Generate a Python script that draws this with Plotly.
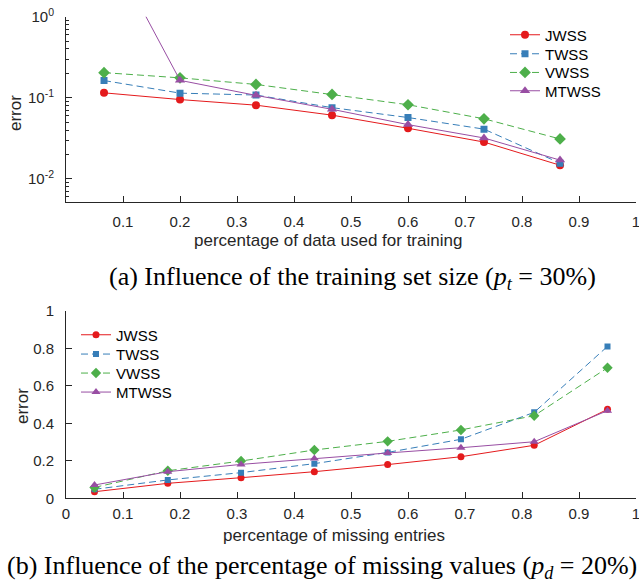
import plotly.graph_objects as go

# ---------------- data ----------------
series_names = ["JWSS", "TWSS", "VWSS", "MTWSS"]

# (a) training set size
x_train = [0.0667, 0.2, 0.3333, 0.4667, 0.6, 0.7333, 0.8667]
jwss_a = [0.115, 0.095, 0.081, 0.061, 0.042, 0.0284, 0.0147]
twss_a = [0.163, 0.114, 0.108, 0.0755, 0.057, 0.041, 0.0156]
vwss_a = [0.204, 0.176, 0.146, 0.110, 0.082, 0.055, 0.031]
mtwss_a = [9.3, 0.164, 0.107, 0.072, 0.0466, 0.0319, 0.017]

# (b) missing values
x_miss = [0.05, 0.1786, 0.3071, 0.4357, 0.5643, 0.6929, 0.8214, 0.95]
jwss_b = [0.035, 0.080, 0.110, 0.142, 0.180, 0.222, 0.283, 0.475]
twss_b = [0.048, 0.098, 0.137, 0.185, 0.245, 0.315, 0.459, 0.811]
vwss_b = [0.058, 0.147, 0.199, 0.258, 0.304, 0.365, 0.441, 0.697]
mtwss_b = [0.071, 0.142, 0.181, 0.213, 0.242, 0.270, 0.302, 0.468]

xa_ticks = [0.1, 0.2, 0.3, 0.4, 0.5, 0.6, 0.7, 0.8, 0.9, 1.0]
xa_text = ["0.1", "0.2", "0.3", "0.4", "0.5", "0.6", "0.7", "0.8", "0.9", "1"]
ya_ticks = [0.01, 0.1, 1]
ya_text = ["10<sup>-2</sup>", "10<sup>-1</sup>", "10<sup>0</sup>"]
xb_ticks = [0, 0.1, 0.2, 0.3, 0.4, 0.5, 0.6, 0.7, 0.8, 0.9, 1.0]
xb_text = ["0", "0.1", "0.2", "0.3", "0.4", "0.5", "0.6", "0.7", "0.8", "0.9", "1"]
yb_ticks = [0, 0.2, 0.4, 0.6, 0.8, 1.0]
yb_text = ["0", "0.2", "0.4", "0.6", "0.8", "1"]

caption_a = "(a) Influence of the training set size (<i>p</i><sub><i>t</i></sub> = 30%)"
caption_b = "(b) Influence of the percentage of missing values (<i>p</i><sub><i>d</i></sub> = 20%)"
xlabel_a = "percentage of data used for training"
xlabel_b = "percentage of missing entries"
ylabel = "error"

# ---------------- style ----------------
colors = ["#e41a1c", "#377eb8", "#4daf4a", "#984ea3"]
symbols = ["circle", "square", "diamond", "triangle-up"]
sizes = [8, 7, 9, 9]
dashes = ["solid", "7px,4px", "7px,4px", "solid"]
AX = "#262626"
FONT = "Liberation Sans, Arial, sans-serif"
SERIF = "Liberation Serif, Times New Roman, serif"

W, H = 639, 584
def px_x(p):
    return p / W
def px_y(p):
    return 1 - p / H

fig = go.Figure()

data_a = [jwss_a, twss_a, vwss_a, mtwss_a]
data_b = [jwss_b, twss_b, vwss_b, mtwss_b]

leg_a_y = [35, 54, 72.7, 91]
leg_b_y = [335, 354.3, 373.3, 392.3]
legends = {}

for i, name in enumerate(series_names):
    lid = "legend" if i == 0 else f"legend{i + 1}"
    legends[lid] = dict(x=px_x(505), y=px_y(leg_a_y[i]), xanchor="left", yanchor="middle")
    fig.add_trace(go.Scatter(
        x=x_train, y=data_a[i], name=name, mode="lines+markers",
        line=dict(color=colors[i], width=1, dash=dashes[i]),
        marker=dict(symbol=symbols[i], size=sizes[i], color=colors[i]),
        xaxis="x", yaxis="y", legend=lid))
for i, name in enumerate(series_names):
    lid = f"legend{i + 5}"
    legends[lid] = dict(x=px_x(76), y=px_y(leg_b_y[i]), xanchor="left", yanchor="middle")
    fig.add_trace(go.Scatter(
        x=x_miss, y=data_b[i], name=name, mode="lines+markers",
        line=dict(color=colors[i], width=1, dash=dashes[i]),
        marker=dict(symbol=symbols[i], size=sizes[i] - 1, color=colors[i]),
        xaxis="x2", yaxis="y2", legend=lid))

for lid, cfg in legends.items():
    cfg.update(font=dict(family=FONT, size=15, color="#000000"),
               bgcolor="rgba(255,255,255,0)", borderwidth=0)
    fig.update_layout(**{lid: cfg})

xdom = [px_x(66), px_x(636)]
common = dict(showline=True, linecolor=AX, linewidth=1, ticks="inside", ticklen=6,
              tickcolor=AX, tickfont=dict(family=FONT, size=15, color=AX),
              showgrid=False, zeroline=False, mirror=False, ticklabeloverflow="allow",
              automargin=False)

fig.update_layout(
    width=W, height=H, margin=dict(l=0, r=0, t=0, b=0, autoexpand=False),
    paper_bgcolor="white", plot_bgcolor="white", showlegend=True,
    xaxis=dict(domain=xdom, range=[0, 1], tickmode="array", tickvals=xa_ticks,
               ticktext=xa_text, anchor="y", ticklabelstandoff=6, **common),
    yaxis=dict(domain=[px_y(202.3), px_y(16.7)], type="log", range=[-2.29, 0],
               tickmode="array", tickvals=ya_ticks, ticktext=ya_text, anchor="x",
               ticklabelstandoff=8,
               minor=dict(ticks="inside", ticklen=3, tickcolor=AX, dtick="D1", showgrid=False),
               **common),
    xaxis2=dict(domain=xdom, range=[0, 1], tickmode="array", tickvals=xb_ticks,
                ticktext=xb_text, anchor="y2", ticklabelstandoff=2, **common),
    yaxis2=dict(domain=[px_y(498.3), px_y(311)], range=[0, 1], tickmode="array",
                tickvals=yb_ticks, ticktext=yb_text, anchor="x2", ticklabelstandoff=8,
                **common),
)

ann = [
    dict(text=xlabel_a, x=px_x(327.5), y=px_y(240), font=dict(family=FONT, size=17, color=AX)),
    dict(text=xlabel_b, x=px_x(334), y=px_y(535), font=dict(family=FONT, size=17, color=AX)),
    dict(text=ylabel, x=px_x(15), y=px_y(113), textangle=-90, font=dict(family=FONT, size=17, color=AX)),
    dict(text=ylabel, x=px_x(22), y=px_y(406), textangle=-90, font=dict(family=FONT, size=17, color=AX)),
    dict(text=caption_a, x=px_x(352), y=px_y(278), font=dict(family=SERIF, size=26, color="#000000")),
    dict(text=caption_b, x=px_x(322), y=px_y(567), font=dict(family=SERIF, size=26, color="#000000")),
]
for a in ann:
    a.update(xref="paper", yref="paper", showarrow=False, xanchor="center", yanchor="middle")
    fig.add_annotation(**a)

fig.write_html("out.html")
